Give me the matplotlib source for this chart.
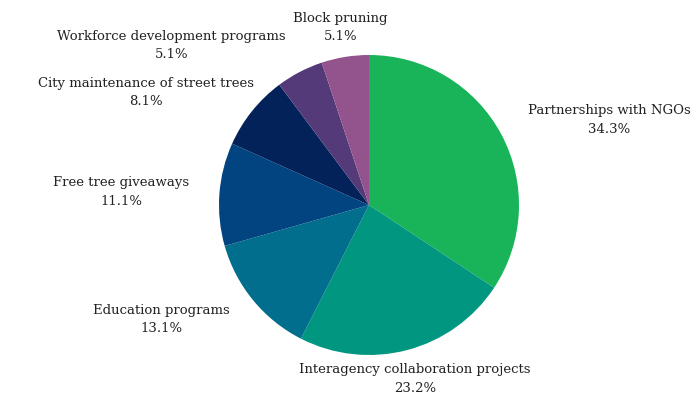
import numpy as np
import matplotlib.pyplot as plt

W, H = 691, 400
CENTER = (369, 205)
RADIUS = 150

LABELS = [
    "Partnerships with NGOs",
    "Interagency collaboration projects",
    "Education programs",
    "Free tree giveaways",
    "City maintenance of street trees",
    "Workforce development programs",
    "Block pruning",
]
VALUES = [34.3, 23.2, 13.1, 11.1, 8.1, 5.1, 5.1]
COLORS = ["#19b45a", "#00967f", "#006e8c", "#014480", "#03225a", "#543a78", "#93548d"]
# small horizontal nudges (in radius units) where labels got pushed aside
NUDGE_X = [0, 0, 0, 0, 0.17, 0, 0]

FONT = "DejaVu Serif"

fig = plt.figure(figsize=(W / 100, H / 100), dpi=100)
ax = fig.add_axes([0, 0, 1, 1])
cx, cy = CENTER

wedges, _ = ax.pie(VALUES, colors=COLORS, startangle=90, counterclock=False,
                   radius=1, center=(0, 0), wedgeprops={"linewidth": 0})

# pie() resets the limits, so set them afterwards
ax.set_xlim(-cx / RADIUS, (W - cx) / RADIUS)
ax.set_ylim(-(H - cy) / RADIUS, cy / RADIUS)
ax.set_aspect("equal")
ax.axis("off")

total = sum(VALUES)
for w, label, val, nx in zip(wedges, LABELS, VALUES, NUDGE_X):
    mid = np.deg2rad((w.theta1 + w.theta2) / 2)
    x = 1.2 * np.cos(mid) + nx
    y = 1.2 * np.sin(mid)
    c = np.cos(mid)
    if abs(c) < 0.3:
        ha = "center"
    elif c > 0:
        ha = "left"
    else:
        ha = "right"
    ax.text(x, y, f"{label}\n{val / total * 100:.1f}%", ha=ha, va="center",
            multialignment="center", fontsize=9.5, family=FONT, color="#222222",
            linespacing=1.55)

fig.savefig("out.png", dpi=100)
